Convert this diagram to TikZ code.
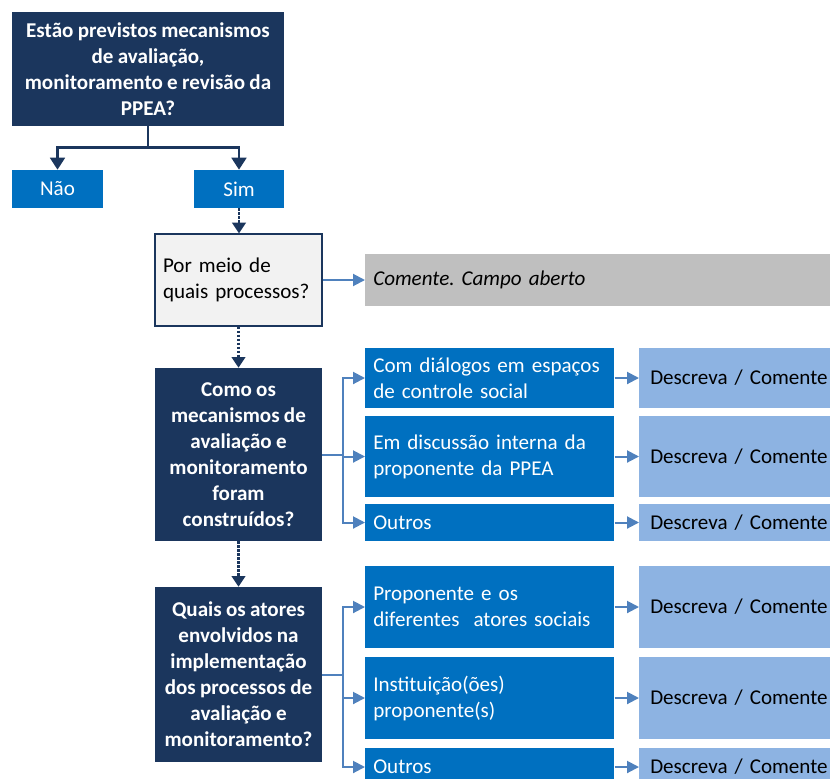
\documentclass[tikz,border=0pt]{standalone}
\usepackage{fontspec}
\setmainfont[WordSpace=0.9]{Carlito}
\usepackage{tikz}
\usetikzlibrary{arrows.meta}
\frenchspacing

\definecolor{navy}{HTML}{1B365D}
\definecolor{midblue}{HTML}{0070C0}
\definecolor{paleblue}{HTML}{8DB3E2}
\definecolor{steel}{HTML}{4F81BD}
\definecolor{lightgray}{HTML}{F2F2F2}
\definecolor{midgray}{HTML}{BFBFBF}

\begin{document}
\begin{tikzpicture}[x=0.75pt,y=-0.75pt,
		font=\fontsize{15.8}{19.5}\selectfont,
		darkbox/.style={fill=navy,text=white,font=\fontsize{15.8}{19.5}\selectfont\bfseries,align=center,minimum width=125.25pt,inner sep=2pt},
		bluebox/.style={fill=midblue,text=white,anchor=west,text width=174.75pt,inner xsep=6pt,align=left},
		descbox/.style={fill=paleblue,text=black,anchor=west,text width=179.25pt,inner xsep=8.25pt,align=left},
		navyline/.style={draw=navy,line width=2pt,-{Triangle[width=11pt,length=9pt]}},
		dotline/.style={draw=navy,line width=2pt,densely dotted,-{Triangle[width=10pt,length=8pt,fill=navy]}},
		steelline/.style={draw=steel,line width=1.5pt,-{Triangle[width=9pt,length=9pt]}}
		]
		\useasboundingbox (0,0) rectangle (830,778);
		\clip (0,0) rectangle (830,778);

		% question at the top
		\node[darkbox,minimum width=204pt,minimum height=85.5pt](Q1) at (148,69)
		{Estão previstos mecanismos\\de avaliação,\\monitoramento e revisão da\\PPEA?};
		\node[fill=midblue,text=white,minimum width=68.25pt,minimum height=28.5pt](Nao) at (57.5,189){Não};
		\node[fill=midblue,text=white,minimum width=67.5pt,minimum height=28.5pt](Sim) at (239,189){Sim};
		\draw[navyline] (Q1.south) -- ++(0,21) -| (Nao.north);
		\draw[navyline] (Q1.south) -- ++(0,21) -| (Sim.north);

		% processes
		\node[fill=lightgray,draw=navy,line width=0.9pt,text width=113.25pt,inner xsep=6pt,align=left,
		minimum height=69pt](Q2) at (238.5,280){Por meio de\\quais processos?};
		\node[fill=midgray,anchor=west,minimum width=401.25pt,minimum height=39pt,text width=389.25pt,
		inner xsep=6pt,align=left,font=\fontsize{15.8}{19.5}\selectfont\itshape](Cmt) at (365,280)
		{Comente. Campo aberto};
		\draw[dotline] (Sim.south) -- (Sim.south |- Q2.north);
		\draw[steelline] (Q2.east) -- (Cmt.west);

		% how were they built
		\node[darkbox,minimum height=129.75pt](Q3) at (238.5,454.5)
		{Como os\\mecanismos de\\avaliação e\\monitoramento\\foram\\construídos?};
		\draw[dotline] (Q2.south) -- (Q3.north);
		\node[bluebox,minimum height=45pt](B1) at (365,378){Com diálogos em espaços\\de controle social};
		\node[bluebox,minimum height=60.75pt](B2) at (365,456.5){Em discussão interna da\\proponente da PPEA};
		\node[bluebox,minimum height=27.75pt](B3) at (365,522.5){Outros};
		\node[descbox,minimum height=45pt](DB1) at (639,378){Descreva / Comente};
		\node[descbox,minimum height=60.75pt](DB2) at (639,456.5){Descreva / Comente};
		\node[descbox,minimum height=27.75pt](DB3) at (639,522.5){Descreva / Comente};
		\foreach \b in {B1,B2,B3}{
			\draw[steelline] (Q3.east) -- ++(21,0) |- (\b.west);
			\draw[steelline] (\b.east) -- (D\b.west);
		}

		% who took part
		\node[darkbox,minimum height=131.25pt](Q4) at (238.5,674.5)
		{Quais os atores\\envolvidos na\\implementação\\dos processos de\\avaliação e\\monitoramento?};
		\draw[dotline] (Q3.south) -- (Q4.north);
		\node[bluebox,minimum height=61.5pt](C1) at (365,607){Proponente e os\\diferentes\ \ atores sociais};
		\node[bluebox,minimum height=61.5pt](C2) at (365,698){Instituição(ões)\\proponente(s)};
		\node[bluebox,minimum height=28.5pt](C3) at (365,767){Outros};
		\node[descbox,minimum height=61.5pt](DC1) at (639,607){Descreva / Comente};
		\node[descbox,minimum height=61.5pt](DC2) at (639,698){Descreva / Comente};
		\node[descbox,minimum height=28.5pt](DC3) at (639,767){Descreva / Comente};
		\foreach \c in {C1,C2,C3}{
			\draw[steelline] (Q4.east) -- ++(21,0) |- (\c.west);
			\draw[steelline] (\c.east) -- (D\c.west);
		}
	\end{tikzpicture}
\end{document}
